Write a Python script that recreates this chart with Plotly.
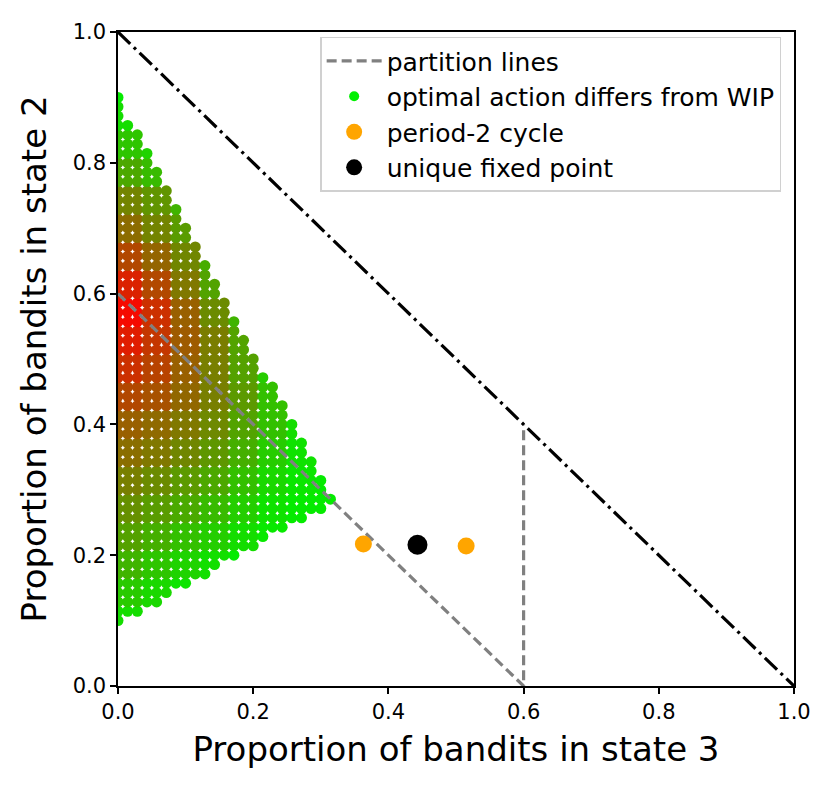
import plotly.graph_objects as go

# grid of simulated starting points (step 1/70 in each direction)
grid_step = 1 / 70
# per column i (x = i*step): lowest and highest occupied row j (y = j*step)
col_bottom = [7, 8, 8, 9, 9, 10, 11, 11, 12, 12, 13, 14, 14, 15, 15, 16, 17, 17, 18, 18, 19, 19, 20]
col_top = [63, 60, 59, 57, 55, 53, 51, 49, 47, 45, 43, 41, 39, 37, 35, 33, 32, 30, 28, 26, 24, 22, 20]

# share of red in the point colour, read off in blocks of 3x3 points
# row b covers j = 3b+6 .. 3b+8, column c covers i = 3c .. 3c+2
red_share = [
    [0.08, 0.04, 0.00, 0.00, 0.00, 0.00, 0.00, 0.00],
    [0.16, 0.10, 0.05, 0.00, 0.00, 0.00, 0.00, 0.00],
    [0.25, 0.18, 0.12, 0.07, 0.02, 0.00, 0.00, 0.00],
    [0.33, 0.27, 0.20, 0.14, 0.08, 0.03, 0.00, 0.00],
    [0.40, 0.35, 0.29, 0.22, 0.14, 0.06, 0.02, 0.02],
    [0.47, 0.42, 0.36, 0.30, 0.20, 0.10, 0.04, 0.02],
    [0.54, 0.50, 0.44, 0.37, 0.27, 0.15, 0.06, 0.00],
    [0.60, 0.56, 0.50, 0.43, 0.32, 0.20, 0.08, 0.00],
    [0.70, 0.66, 0.57, 0.47, 0.36, 0.20, 0.05, 0.00],
    [0.80, 0.72, 0.60, 0.47, 0.33, 0.15, 0.00, 0.00],
    [0.88, 0.77, 0.62, 0.48, 0.32, 0.12, 0.00, 0.00],
    [0.96, 0.80, 0.60, 0.42, 0.25, 0.00, 0.00, 0.00],
    [0.86, 0.70, 0.50, 0.32, 0.15, 0.00, 0.00, 0.00],
    [0.70, 0.58, 0.44, 0.28, 0.10, 0.00, 0.00, 0.00],
    [0.55, 0.45, 0.35, 0.18, 0.00, 0.00, 0.00, 0.00],
    [0.45, 0.38, 0.25, 0.08, 0.00, 0.00, 0.00, 0.00],
    [0.30, 0.22, 0.12, 0.00, 0.00, 0.00, 0.00, 0.00],
    [0.18, 0.12, 0.05, 0.00, 0.00, 0.00, 0.00, 0.00],
    [0.08, 0.05, 0.00, 0.00, 0.00, 0.00, 0.00, 0.00],
    [0.02, 0.00, 0.00, 0.00, 0.00, 0.00, 0.00, 0.00],
]

# partition lines and simplex edge
part_x = [0.0, 0.6, 0.6]
part_y = [0.6, 0.0, 0.4]
edge_x = [0.0, 1.0]
edge_y = [1.0, 0.0]

# cycle / fixed point
cycle_x = [0.363, 0.515]
cycle_y = [0.217, 0.214]
fixed_x = [0.443]
fixed_y = [0.216]


def mix(f):
    return "rgb(%d,%d,0)" % (round(255 * f), round(240 * (1 - f)))


px_, py_, pc_ = [], [], []
for i, (lo, hi) in enumerate(zip(col_bottom, col_top)):
    for j in range(lo, hi + 1):
        px_.append(i * grid_step)
        py_.append(j * grid_step)
        pc_.append(mix(red_share[(j - 6) // 3][i // 3]))

fig = go.Figure()

fig.add_trace(go.Scatter(x=px_, y=py_, mode="markers", showlegend=False,
                         marker=dict(size=11, color=pc_, line=dict(width=0))))
fig.add_trace(go.Scatter(x=part_x, y=part_y, mode="lines", name="partition lines",
                         legendgroup="a",
                         line=dict(color="#808080", width=3.2, dash="10px,5px")))
fig.add_trace(go.Scatter(x=edge_x, y=edge_y, mode="lines", showlegend=False,
                         line=dict(color="black", width=3.2, dash="17px,5px,3px,5px")))
# legend entry for the grid points
fig.add_trace(go.Scatter(x=[None], y=[None], mode="markers", legendgroup="b",
                         name="optimal action differs from WIP",
                         marker=dict(size=10, color="rgb(0,240,0)")))
fig.add_trace(go.Scatter(x=cycle_x, y=cycle_y, mode="markers", name="period-2 cycle",
                         legendgroup="c",
                         marker=dict(size=17, color="#ffa500", line=dict(width=0))))
fig.add_trace(go.Scatter(x=fixed_x, y=fixed_y, mode="markers", name="unique fixed point",
                         legendgroup="d",
                         marker=dict(size=20, color="black", line=dict(width=0))))

axis = dict(range=[0, 1], showgrid=False, zeroline=False, showline=True, mirror=True,
            linecolor="black", linewidth=1.5, ticks="outside", ticklen=6, tickwidth=1.5,
            tickcolor="black", tickvals=[0, 0.2, 0.4, 0.6, 0.8, 1.0], tickformat=".1f",
            tickfont=dict(size=21, color="black"))

fig.update_layout(
    width=830, height=787,
    margin=dict(l=110, r=44, t=20, b=109),
    plot_bgcolor="white", paper_bgcolor="white",
    font=dict(family="DejaVu Sans", color="black"),
    xaxis=dict(axis, title=dict(text="Proportion of bandits in state 3",
                                font=dict(size=34), standoff=14)),
    yaxis=dict(axis, title=dict(text="Proportion of bandits in state 2",
                                font=dict(size=34), standoff=16)),
    legend=dict(x=0.981, y=0.993, xanchor="right", yanchor="top",
                bgcolor="white", bordercolor="#d0d0d0", borderwidth=1.5,
                font=dict(size=25), itemsizing="trace", itemwidth=55,
                tracegroupgap=0),
)

fig.write_html("out.html")
